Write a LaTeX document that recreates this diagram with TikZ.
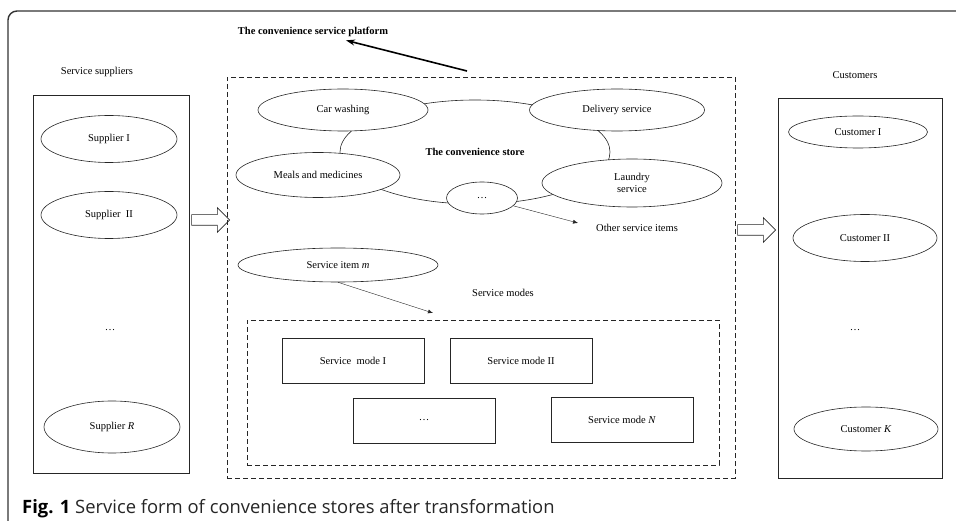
\documentclass[tikz,border=0pt]{standalone}
\usepackage{fontspec}
\setmainfont{Liberation Serif}
\newfontfamily\captionfont{Open Sans}
\usetikzlibrary{shapes.geometric,shapes.arrows,arrows.meta}

\begin{document}
\begin{tikzpicture}[x=1pt,y=-1pt,
  every node/.style={font=\fontsize{10.5}{12}\selectfont},
  item/.style={ellipse,draw=black!85,fill=white,line width=0.6pt,inner sep=0pt},
  holder/.style={rectangle,draw=black!85,line width=0.6pt},
  modebox/.style={holder,minimum width=142pt,minimum height=45pt},
  dashbox/.style={rectangle,draw=black!85,line width=0.6pt,dash pattern=on 5pt off 3pt},
  hollow/.style={single arrow,draw=black!85,line width=0.6pt,inner sep=5pt,
    minimum height=38pt,single arrow head extend=7pt},
  thinarrow/.style={-{Latex[length=5pt,width=4pt]},line width=0.4pt,black!85}]
\useasboundingbox (0,0) rectangle (956,521);
\clip (0,0) rectangle (956,521);
% outer frame
\draw[line width=1.4pt,black!80,rounded corners=9pt] (8,540) -- (8,11) -- (970,11);

% platform
\node[font=\fontsize{10.5}{12}\selectfont\bfseries] (platform) at (313,32) {The convenience service platform};
\coordinate (platformtail) at (467,71);
\draw[-{Stealth[length=9pt,width=6pt]},line width=1.6pt] (platformtail) -- (platform);
\node[dashbox,minimum width=508pt,minimum height=401pt] (platformbox) at (481,277.5) {};

% suppliers
\node (supplierslabel) at (97,72) {Service suppliers};
\node[holder,minimum width=156pt,minimum height=378pt] (suppliers) at (111,284) {};
\node[item,minimum width=136pt,minimum height=47pt] (supplier1) at (109,139) {Supplier I};
\node[item,minimum width=136pt,minimum height=47pt] (supplier2) at (109,215) {Supplier~ II};
\node (supplierdots) at (110,330) {\dots};
\node[item,minimum width=136pt,minimum height=52pt] (supplierR) at (112,427) {Supplier \textit{R}};

% customers
\node (customerslabel) at (855,75) {Customers};
\node[holder,minimum width=164pt,minimum height=380pt] (customers) at (860,288) {};
\node[item,minimum width=139pt,minimum height=32pt] (customer1) at (858,132) {Customer I};
\node[item,minimum width=144pt,minimum height=47pt] (customer2) at (865,238) {Customer II};
\node (customerdots) at (855,330) {\dots};
\node[item,minimum width=144pt,minimum height=44pt] (customerK) at (866,429) {Customer \textit{K}};

% block arrows
\node[hollow] (inarrow) at (208,220) {};
\node[hollow] (outarrow) at (754,230) {};

% the convenience store and its items
\node[ellipse,draw=black!85,line width=0.6pt,minimum width=270pt,minimum height=104pt,
  font=\fontsize{10.5}{12}\selectfont\bfseries] (store) at (475,152) {The convenience store};
\node[item,minimum width=170pt,minimum height=42pt] (carwash) at (343,110) {Car washing};
\node[item,minimum width=175pt,minimum height=42pt] (delivery) at (617,110) {Delivery service};
\node[item,minimum width=164pt,minimum height=45pt] (meals) at (318,175) {Meals and medicines};
\node[item,minimum width=180pt,minimum height=48pt,align=center] (laundry) at (632,183) {Laundry\\service};
\node[item,minimum width=71pt,minimum height=32pt] (moreitems) at (482,198) {\dots};
\coordinate (othertip) at (578,223);
\node (otheritems) at (637,228) {Other service items};
\draw[thinarrow] (moreitems.-14) -- (othertip);

% service item and modes
\node[item,minimum width=200pt,minimum height=34pt] (itemm) at (338,265) {Service item \textit{m}};
\coordinate (modestip) at (433,313);
\node (modeslabel) at (503,293) {Service modes};
\draw[thinarrow] (itemm.south) -- (modestip);
\node[dashbox,minimum width=472pt,minimum height=145pt] (modesbox) at (483,392.5) {};
\node[modebox] (mode1) at (353,360.5) {Service~ mode I};
\node[modebox] (mode2) at (521,360.5) {Service mode II};
\node[modebox] (modedots) at (424,420.5) {\dots};
\node[modebox] (modeN) at (622,419.5) {Service mode \textit{N}};

% caption
\node[anchor=base west,inner sep=0pt,text=black!85,font=\captionfont\fontsize{18.4}{20}\selectfont] (caption) at (22,513)
  {\textbf{\color{black}Fig. 1} Service form of convenience stores after transformation};
\end{tikzpicture}
\end{document}
